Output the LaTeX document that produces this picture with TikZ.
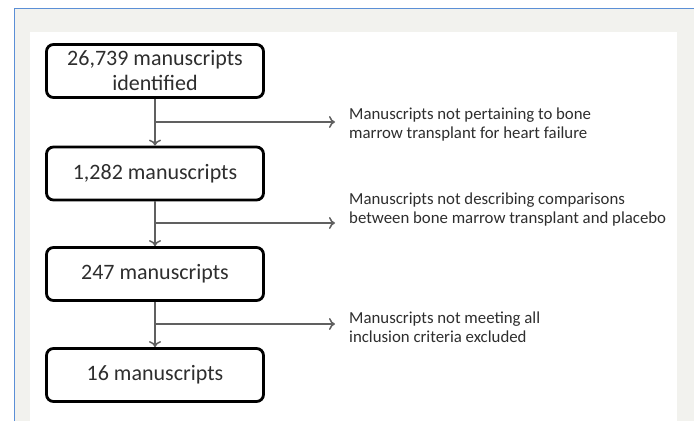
\documentclass[tikz,border=0pt]{standalone}
\usepackage{fontspec}
\setmainfont{Carlito}
\usetikzlibrary{arrows.meta}
\definecolor{bgray}{HTML}{F2F2EE}
\definecolor{bblue}{HTML}{5B8FD6}
\definecolor{txt}{HTML}{2E2E2E}
\definecolor{lin}{HTML}{606060}
\begin{document}
\begin{tikzpicture}[x=1pt,y=-1pt,
 stepbox/.style={draw=black, line width=2.8pt, rounded corners=7pt, minimum width=217pt, minimum height=53pt, text=txt, font=\fontsize{22}{25}\selectfont, align=center, inner sep=0pt},
 note/.style={anchor=west, text=txt, font=\fontsize{16.8}{19.5}\selectfont, align=left, inner sep=0pt},
 conn/.style={draw=lin, line width=1.5pt},
 arr/.style={conn, -{To[length=6pt,width=12pt]}}]
\useasboundingbox (0,0) rectangle (694,421);
\fill[white] (0,0) rectangle (694,421);
\fill[bgray] (14,8) rectangle (694,421);
\draw[bblue, line width=1pt] (14,421) -- (14,8) -- (694,8);
\fill[white] (30,32) rectangle (677,421);

\node[stepbox] (b1) at (155,71) {26,739 manuscripts\\identified};
\node[stepbox] (b2) at (155,173.5) {1,282 manuscripts};
\node[stepbox] (b3) at (155,274) {247 manuscripts};
\node[stepbox] (b4) at (155,375) {16 manuscripts};

\node[note] (l1) at (349,124.5) {Manuscripts not pertaining to bone\\marrow transplant for heart failure};
\node[note] (l2) at (349,209.5) {Manuscripts not describing comparisons\\between bone marrow transplant and placebo};
\node[note] (l3) at (349,327) {Manuscripts not meeting all\\inclusion criteria excluded};

\draw[arr] (b1.south) -- (b2.north);
\draw[arr] (b2.south) -- (b3.north);
\draw[arr] (b3.south) -- (b4.north);

\coordinate (j1) at (155,122);
\coordinate (t1) at (335,122);
\coordinate (j2) at (155,223);
\coordinate (t2) at (335,223);
\coordinate (j3) at (155,324);
\coordinate (t3) at (335,324);
\draw[arr] (j1) -- (t1);
\draw[arr] (j2) -- (t2);
\draw[arr] (j3) -- (t3);
\end{tikzpicture}
\end{document}
